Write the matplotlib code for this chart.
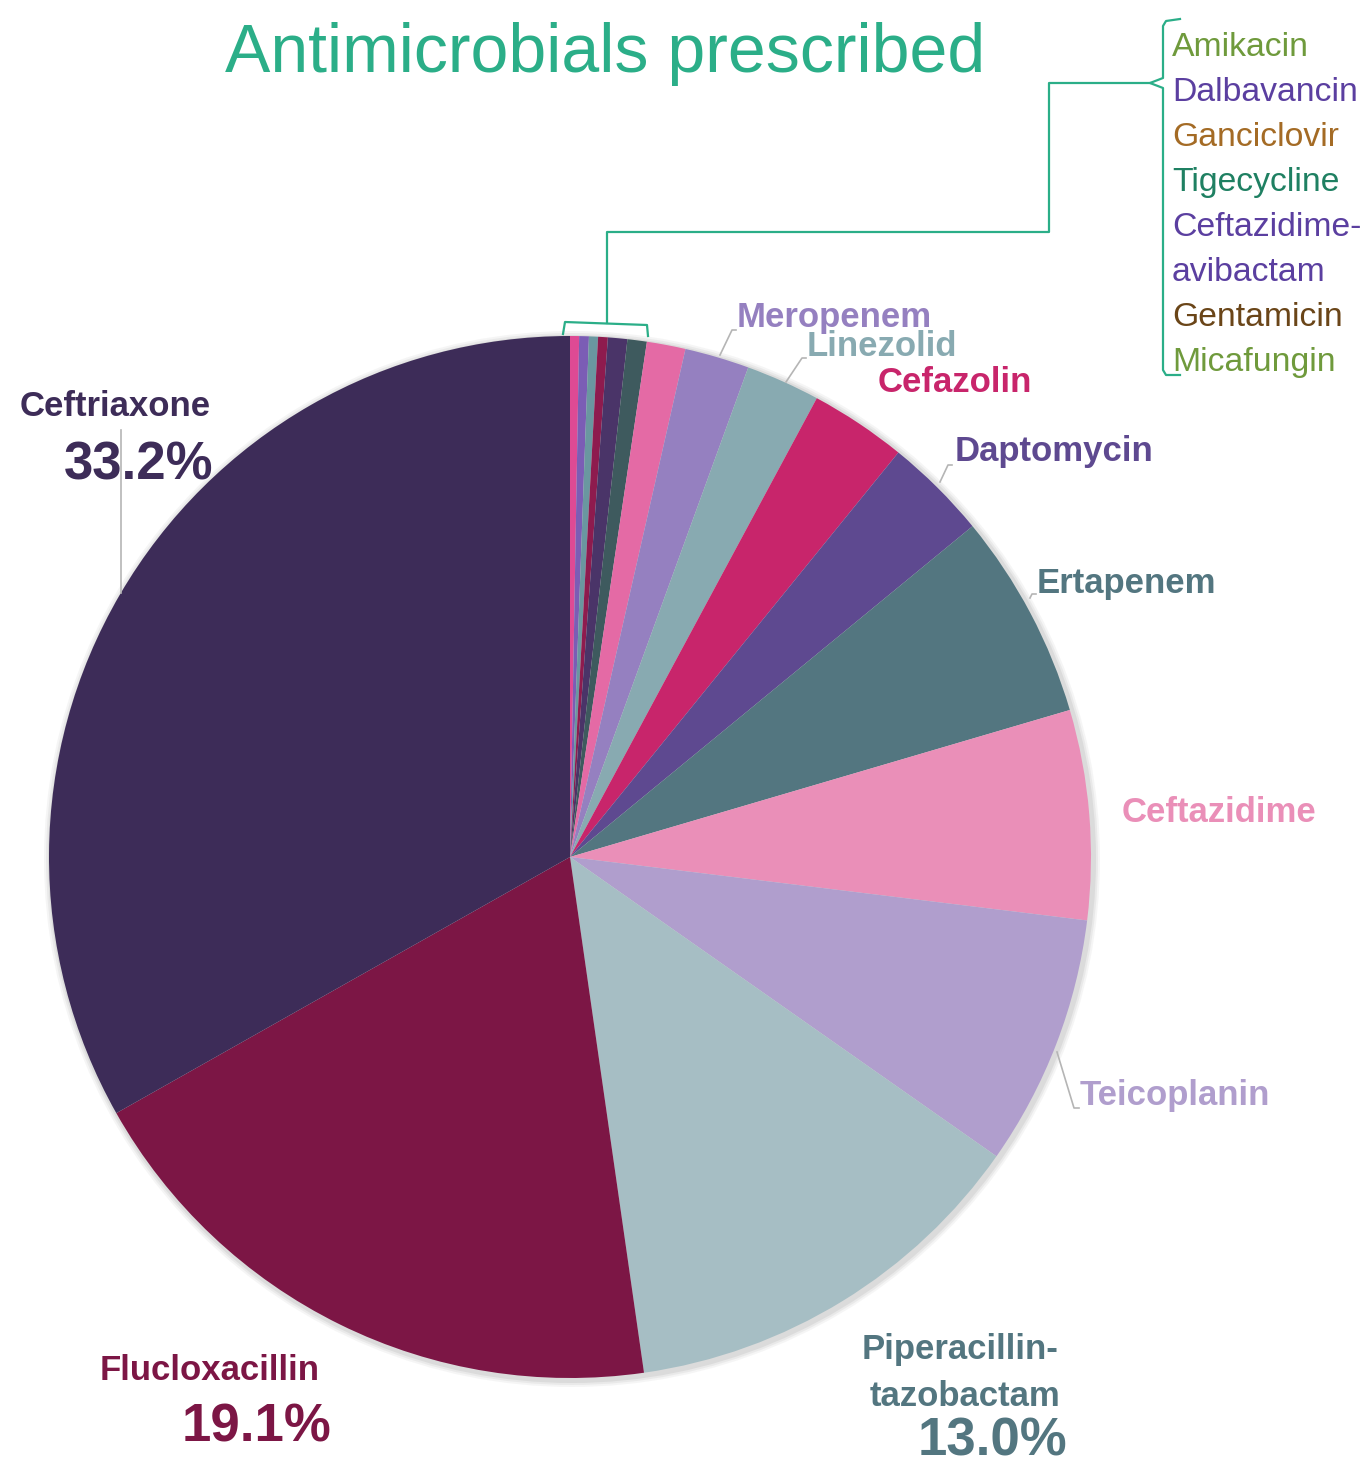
import matplotlib
matplotlib.use('Agg')
import matplotlib.pyplot as plt
from matplotlib.patches import Circle

W, H = 1364, 1466

# slices, clockwise from 12 o'clock
drugs = ['Amikacin', 'Dalbavancin', 'Ganciclovir', 'Tigecycline',
         'Ceftazidime-avibactam', 'Gentamicin', 'Micafungin',
         'Meropenem', 'Linezolid', 'Cefazolin', 'Daptomycin', 'Ertapenem',
         'Ceftazidime', 'Teicoplanin', 'Piperacillin-tazobactam',
         'Flucloxacillin', 'Ceftriaxone']
shares = [0.28, 0.30, 0.28, 0.30, 0.6, 0.6, 1.2,
          2.0, 2.3, 3.0, 3.2, 6.4,
          6.5, 7.8, 13.0,
          19.1, 33.2]
slice_colors = ['#DE4A94', '#7B5DB5', '#6A97A0', '#8E1B4E', '#4A3468', '#3E5A5E', '#E46AA5',
                '#9580C0', '#88AAB1', '#C8256B', '#5E4990', '#537680',
                '#EA8FB8', '#B09ECD', '#A6BEC4',
                '#7C1645', '#3D2C58']

small_names = ['Amikacin', 'Dalbavancin', 'Ganciclovir', 'Tigecycline',
               'Ceftazidime-', 'avibactam', 'Gentamicin', 'Micafungin']
small_colors = ['#6F9A3C', '#5B3FA0', '#A46B25', '#1F8062', '#5B3FA0', '#5B3FA0',
                '#6A4518', '#6F9A3C']

sans = ['Liberation Sans', 'DejaVu Sans']
bracket_col = '#2BAE88'
lead_col = '#b5b5b5'

fig = plt.figure(figsize=(W / 100, H / 100), dpi=100)
ax = fig.add_axes([0, 0, 1, 1])

def Y(py):
    return H - py

cx, cy, r = 570, 857, 521

# soft shadow under the pie
for k, a in [(7, 0.08), (5, 0.10), (3, 0.14)]:
    ax.add_patch(Circle((cx + 2, Y(cy) - 2), r + k, color='#888888', alpha=a, lw=0, zorder=0))

ax.pie(shares, colors=slice_colors, startangle=90, counterclock=False,
       center=(cx, Y(cy)), radius=r, wedgeprops=dict(linewidth=0), frame=True)
ax.set_xlim(0, W)
ax.set_ylim(0, H)
ax.set_aspect('equal')
ax.axis('off')

ax.text(605, Y(54), 'Antimicrobials prescribed', color='#2BAE88', fontsize=49,
        family=sans, ha='center', va='center')

def lab(x, y, s, c, size=25):
    ax.text(x, Y(y), s, color=c, fontsize=size, family=sans, fontweight='bold',
            ha='left', va='center')

def pct(x, y, s, c):
    ax.text(x, Y(y), s, color=c, fontsize=38, family=sans,
            fontweight='bold', ha='left', va='center')

def lead(xs, ys):
    ax.plot(xs, [Y(v) for v in ys], color=lead_col, lw=1.2, zorder=1)

# big slice labels
lab(20, 406, 'Ceftriaxone', '#3D2C58')
pct(64, 466, '33.2%', '#3D2C58')
lead([121, 121], [430, 593])

lab(100, 1371, 'Flucloxacillin', '#7C1645')
pct(182, 1428, '19.1%', '#7C1645')

lab(862, 1349, 'Piperacillin-', '#537680')
lab(870, 1397, 'tazobactam', '#537680')
pct(918, 1441, '13.0%', '#537680')

lab(1080, 1096, 'Teicoplanin', '#B09ECD')
lead([1057, 1074, 1079], [1052, 1108, 1108])

lab(1122, 813, 'Ceftazidime', '#EA8FB8')

lab(1037, 583, 'Ertapenem', '#537680')
lead([1030, 1032, 1036], [598, 594, 594])

lab(955, 451, 'Daptomycin', '#5E4990')
lead([940, 948, 952], [482, 465, 465])

lab(878, 382, 'Cefazolin', '#C8256B')

lab(807, 346, 'Linezolid', '#88AAB1')
lead([786, 802, 806], [382, 358, 358])

lab(737, 317, 'Meropenem', '#9580C0')
lead([720, 732, 736], [355, 330, 330])

# bracket over the smallest slices
ax.plot([563, 565, 647, 648], [Y(334), Y(322), Y(325), Y(336)], color=bracket_col, lw=1.6)
ax.plot([607, 607, 1049, 1049, 1150], [Y(323), Y(232), Y(232), Y(83), Y(83)],
        color=bracket_col, lw=1.6)
ax.plot([1180, 1166, 1163, 1163, 1150, 1163, 1163, 1166, 1180],
        [Y(19), Y(21), Y(26), Y(78), Y(83), Y(88), Y(370), Y(375), Y(375)],
        color=bracket_col, lw=1.6)

for i, (n, c) in enumerate(zip(small_names, small_colors)):
    ax.text(1172, Y(48 + 44.9 * i), n, color=c, fontsize=24.3, family=sans,
            ha='left', va='center')

fig.savefig('out.png', dpi=100)
